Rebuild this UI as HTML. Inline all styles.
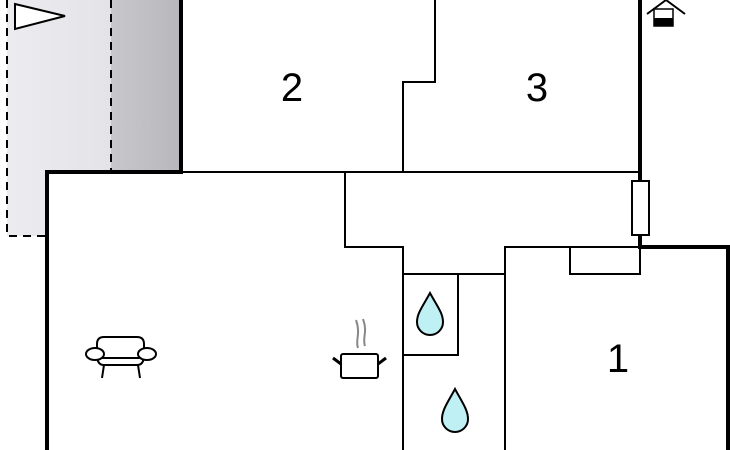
<!DOCTYPE html>
<html><head><style>body{margin:0;background:#fff}svg{display:block}</style></head><body>
<svg width="730" height="450" viewBox="0 0 730 450" xmlns="http://www.w3.org/2000/svg">
<defs><linearGradient id="g" x1="0" x2="1"><stop offset="0" stop-color="#ececf0"/><stop offset="1" stop-color="#e4e4e8"/></linearGradient>
<linearGradient id="g2" x1="0" x2="1"><stop offset="0" stop-color="#c8c8cc"/><stop offset="1" stop-color="#b8b8bc"/></linearGradient></defs>
<path d="M7 0H111V172H47V236H7Z" fill="url(#g)"/>
<rect x="111" y="0" width="70" height="172" fill="url(#g2)"/>
<path d="M7 0V236H47 M111 0V172" stroke="#000" stroke-width="2" stroke-dasharray="8,6" fill="none"/>
<polygon points="15,4 65,16 15,29" fill="#fff" stroke="#000" stroke-width="2"/>
<g stroke="#000" fill="none">
<path d="M181 0V172H47V450" stroke-width="4"/>
<path d="M640 0V247H728V450" stroke-width="4"/>
<path d="M181 172H640 M435 0V82H403V172 M345 172V247H403V450 M403 274H505 M458 274V355H403 M505 450V247H640 M570 247V274H640V247" stroke-width="2"/>
</g>
<rect x="632" y="181" width="17" height="54" fill="#fff" stroke="#000" stroke-width="2"/>
<path d="M647 14L666 0 685 14" stroke="#000" stroke-width="2" fill="none"/>
<rect x="654" y="9" width="19" height="17" fill="#fff" stroke="#000" stroke-width="1.5"/>
<rect x="654" y="18" width="19" height="8" fill="#000"/>
<g font-family="Liberation Sans, sans-serif" font-size="40" text-anchor="middle">
<text x="292" y="101">2</text><text x="537" y="101">3</text><text x="618" y="372">1</text></g>
<g fill="#bff0f4" stroke="#000" stroke-width="2">
<path d="M430 293C423 306 417 313 417 322A13 13 0 0 0 443 322C443 313 437 306 430 293Z"/>
<path d="M455 389C448 402 442 410 442 419A13 13 0 0 0 468 419C468 410 462 402 455 389Z"/>
</g>
<g stroke="#888" stroke-width="2" fill="none"><path d="M358 348C355 340 361 334 356 320M365 346C362 338 368 332 363 319"/></g>
<rect x="341" y="354" width="37" height="24" rx="2" fill="#fff" stroke="#000" stroke-width="2"/>
<path d="M333 358L341 364M386 358L378 364" stroke="#000" stroke-width="3"/>
<g stroke="#000" stroke-width="2" fill="#fff">
<path d="M97 355V344Q97 337 104 337H137Q144 337 144 344V355"/>
<path d="M97 355Q97 365 104 365H137Q144 365 144 355"/>
<line x1="97" y1="358" x2="144" y2="358"/>
<ellipse cx="95" cy="354" rx="9" ry="6"/><ellipse cx="147" cy="354" rx="9" ry="6"/>
<path d="M104 365L102 378M138 365L140 378" fill="none"/>
</g>
</svg>
</body></html>
